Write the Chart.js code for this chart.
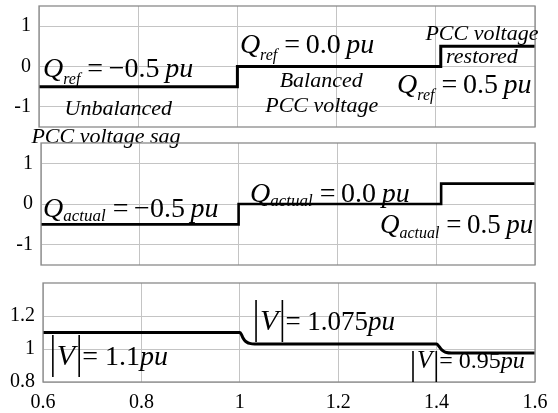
<!DOCTYPE html>
<html>
<head>
<meta charset="utf-8">
<script src="https://cdn.jsdelivr.net/npm/chart.js@4.4.1/dist/chart.umd.min.js"></script>
<style>
  html, body { margin: 0; padding: 0; background: #fff; }
  body { width: 558px; height: 413px; position: relative; overflow: hidden; }
  canvas { position: absolute; left: 0; }
</style>
</head>
<body>
<canvas id="qRefChart" style="top:0px" width="558" height="150"></canvas>
<canvas id="qActChart" style="top:135px" width="558" height="140"></canvas>
<canvas id="voltChart" style="top:275px" width="558" height="138"></canvas>
<script>
// tick labels
const timeTicks = [0.6, 0.8, 1.0, 1.2, 1.4, 1.6];
const qTicks = [-1, 0, 1];
const vTicks = [0.8, 1.0, 1.2];

// reactive power set-point and measured value (step changes)
const stepTimes = [0.6, 1.0, 1.41, 1.6];
const qRef = [-0.5, 0.0, 0.5, 0.5];
const qActual = [-0.5, 0.0, 0.5, 0.5];

// PCC voltage magnitude
const vTimes = [0.6, 1.0, 1.003, 1.006, 1.01, 1.015, 1.02, 1.03, 1.4, 1.405, 1.41, 1.415, 1.42, 1.43, 1.6];
const vMag = [1.1, 1.1, 1.09, 1.07, 1.052, 1.04, 1.034, 1.03, 1.03, 1.015, 0.996, 0.985, 0.979, 0.976, 0.976];

const FONT = '"Liberation Serif", "Times New Roman", serif';

function toPoints(xs, ys) {
    return xs.map((x, i) => ({ x: x, y: ys[i] }));
}

// text with italic / subscript parts and |V| bars
function drawRich(ctx, x, y, parts) {
    let cx = x;
    parts.forEach(p => {
        if (p.bar) {
            ctx.save();
            ctx.strokeStyle = '#000';
            ctx.lineWidth = 1.6;
            ctx.beginPath();
            ctx.moveTo(cx + 1, y - p.up);
            ctx.lineTo(cx + 1, y + p.down);
            ctx.stroke();
            ctx.restore();
            cx += p.w;
            return;
        }
        ctx.font = (p.it ? 'italic ' : '') + p.size + 'px ' + FONT;
        ctx.fillText(p.t, cx, y + (p.dy || 0));
        cx += ctx.measureText(p.t).width + (p.gap || 0);
    });
}

function qLabel(sub, value, size, subSize, subDrop) {
    return [
        { t: 'Q', it: true, size: size },
        { t: sub, it: true, size: subSize, dy: subDrop, gap: 7 },
        { t: '=\u2009' + value, size: size },
        { t: '\u2009pu', it: true, size: size }
    ];
}

function vLabel(value, size, vSize, up, down) {
    return [
        { bar: true, up: up, down: down, w: 5 },
        { t: 'V', it: true, size: vSize, gap: 3 },
        { bar: true, up: up, down: down, w: 4 },
        { t: '= ' + value, size: size },
        { t: 'pu', it: true, size: size }
    ];
}

function makePanel(id, cfg) {
    const annotations = {
        id: 'annotations',
        afterDraw(chart) {
            const ctx = chart.ctx;
            const xs = chart.scales.x, ys = chart.scales.y;
            const area = chart.chartArea;
            // full box like the original figure
            ctx.save();
            ctx.strokeStyle = '#8a8a8a';
            ctx.lineWidth = 1.3;
            ctx.strokeRect(area.left, area.top, area.right - area.left, area.bottom - area.top);
            ctx.fillStyle = '#000';
            ctx.textBaseline = 'alphabetic';
            cfg.notes.forEach(n => {
                const px = xs.getPixelForValue(n.x);
                const py = ys.getPixelForValue(n.y);
                if (n.center) {
                    ctx.textAlign = 'center';
                    ctx.font = 'italic ' + n.size + 'px ' + FONT;
                    ctx.fillText(n.center, px, py);
                } else {
                    ctx.textAlign = 'left';
                    drawRich(ctx, px, py, n.parts);
                }
            });
            ctx.restore();
        }
    };

    return new Chart(document.getElementById(id), {
        type: 'line',
        data: {
            datasets: [{
                data: cfg.points,
                borderColor: '#000',
                borderWidth: cfg.lineWidth,
                pointRadius: 0,
                fill: false,
                stepped: cfg.stepped || false,
                cubicInterpolationMode: cfg.stepped ? 'default' : 'monotone'
            }]
        },
        options: {
            responsive: false,
            animation: false,
            events: [],
            layout: { padding: { left: 0, right: 23, top: cfg.top, bottom: cfg.bottom } },
            plugins: { legend: { display: false }, tooltip: { enabled: false } },
            scales: {
                x: {
                    type: 'linear',
                    min: 0.6,
                    max: 1.6,
                    afterBuildTicks: s => { s.ticks = timeTicks.map(v => ({ value: v })); },
                    afterFit: s => {
                        s.height = cfg.showX ? 31 : 0;
                        s.paddingLeft = 0;
                        s.paddingRight = 0;
                    },
                    border: { display: false },
                    grid: { color: '#c4c4c4', lineWidth: 1, drawTicks: false },
                    ticks: {
                        display: cfg.showX,
                        padding: 9,
                        color: '#000',
                        maxRotation: 0,
                        font: { family: FONT, size: 20 },
                        callback: v => String(v)
                    }
                },
                y: {
                    min: cfg.yMin,
                    max: cfg.yMax,
                    afterBuildTicks: s => { s.ticks = cfg.yTicks.map(v => ({ value: v })); },
                    afterFit: s => {
                        s.width = cfg.left;
                        s.paddingTop = 0;
                        s.paddingBottom = 0;
                    },
                    border: { display: false },
                    grid: { color: '#c4c4c4', lineWidth: 1, drawTicks: false },
                    ticks: {
                        padding: 8,
                        color: '#000',
                        font: { family: FONT, size: 20 },
                        callback: v => String(v)
                    }
                }
            }
        },
        plugins: [annotations]
    });
}

makePanel('qRefChart', {
    points: toPoints(stepTimes, qRef),
    stepped: 'before',
    lineWidth: 3,
    left: 39, top: 6, bottom: 23, showX: false,
    yMin: -1.5, yMax: 1.5, yTicks: qTicks,
    notes: [
        { x: 0.608, y: -0.26, parts: qLabel('ref', '\u22120.5', 28, 16, 7) },
        { x: 0.76, y: -1.2, center: 'Unbalanced', size: 22 },
        { x: 0.735, y: -1.89, center: 'PCC voltage sag', size: 22 },
        { x: 1.005, y: 0.33, parts: qLabel('ref', '0.0', 28, 16, 7) },
        { x: 1.169, y: -0.51, center: 'Balanced', size: 22 },
        { x: 1.17, y: -1.13, center: 'PCC voltage', size: 22 },
        { x: 1.493, y: 0.66, center: 'PCC voltage', size: 22 },
        { x: 1.493, y: 0.08, center: 'restored', size: 22 },
        { x: 1.322, y: -0.66, parts: qLabel('ref', '0.5', 28, 16, 7) }
    ]
});

makePanel('qActChart', {
    points: toPoints(stepTimes, qActual),
    stepped: 'before',
    lineWidth: 2.6,
    left: 41, top: 8, bottom: 10, showX: false,
    yMin: -1.5, yMax: 1.5, yTicks: qTicks,
    notes: [
        { x: 0.604, y: -0.31, parts: qLabel('actual', '\u22120.5', 28, 17, 4) },
        { x: 1.023, y: 0.06, parts: qLabel('actual', '0.0', 28, 17, 4) },
        { x: 1.286, y: -0.71, parts: qLabel('actual', '0.5', 27, 16, 5) }
    ]
});

makePanel('voltChart', {
    points: toPoints(vTimes, vMag),
    lineWidth: 3,
    left: 43, top: 8, bottom: 0, showX: true,
    yMin: 0.8, yMax: 1.4, yTicks: vTicks,
    notes: [
        { x: 0.618, y: 0.903, parts: vLabel('1.1', 28, 30, 30, 12) },
        { x: 1.031, y: 1.115, parts: vLabel('1.075', 27, 30, 30, 12) },
        { x: 1.35, y: 0.885, parts: vLabel('0.95', 24, 25, 17, 14) }
    ]
});
</script>
</body>
</html>
